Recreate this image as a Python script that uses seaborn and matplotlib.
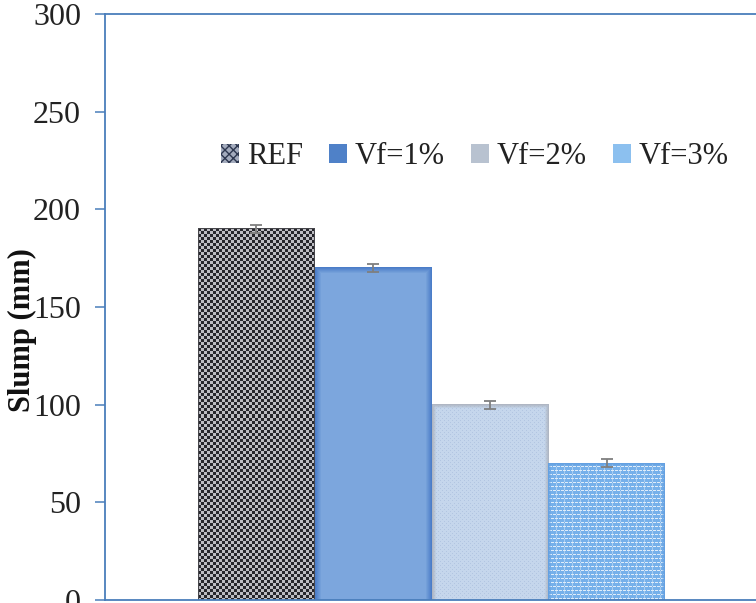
import numpy as np
import matplotlib
matplotlib.use("Agg")
import matplotlib.pyplot as plt
from matplotlib.patches import Patch
import seaborn as sns

# Slump test results
categories = ["REF", "Vf=1%", "Vf=2%", "Vf=3%"]
slump = [190, 170, 100, 70]
slump_err = [2, 2, 2, 2]
y_ticks = [0, 50, 100, 150, 200, 250, 300]

sns.set_theme(style="white")
plt.rcParams["font.family"] = ["Liberation Serif", "DejaVu Serif"]

W, H = 756, 603
fig = plt.figure(figsize=(W / 100, H / 100), dpi=100)
fig.patch.set_facecolor("white")
ax = fig.add_axes([105 / W, 3 / H, (W - 105) / W, 586 / H])

base_colors = ["#6b6b6b", "#7ca4dc", "#c5d5ea", "#9cc6ee"]
sns.barplot(x=categories, y=slump, hue=categories, palette=base_colors,
            width=1.0, errorbar=None, legend=False, ax=ax, saturation=1)

# bars span 198..665 px; the axes starts at 105 px and runs to the figure edge
px_per_unit = (665 - 198) / 4
x_left = -0.5 - (198 - 105) / px_per_unit
x_right = 3.5 + (W - 665) / px_per_unit
ax.set_xlim(x_left, x_right)
ax.set_ylim(0, 300)


def checker(h, w, cell=3):
    yy, xx = np.mgrid[0:h, 0:w]
    m = ((yy // cell) + (xx // cell)) % 2
    dark = np.array([38, 38, 44]) / 255
    light = np.array([188, 188, 194]) / 255
    img = np.where(m[..., None] == 0, dark, light)
    img[:, :1] = img[:, -1:] = img[:1, :] = np.array([70, 70, 75]) / 255
    return img


def soft_blue(h, w):
    img = np.ones((h, w, 3)) * np.array([124, 166, 221]) / 255
    edge = np.array([75, 125, 200]) / 255
    yy, xx = np.mgrid[0:h, 0:w]
    d = np.minimum(np.minimum(xx, w - 1 - xx), yy)
    t = np.clip(1 - d / 6.0, 0, 1)[..., None]
    return img * (1 - t) + edge * t


def dotted_grey(h, w):
    img = np.ones((h, w, 3)) * np.array([197, 214, 236]) / 255
    yy, xx = np.mgrid[0:h, 0:w]
    dots = ((yy % 4 == 0) & (xx % 4 == 0)) | ((yy % 4 == 2) & (xx % 4 == 2))
    img[dots] = np.array([178, 197, 225]) / 255
    edge = np.array([175, 182, 195]) / 255
    d = np.minimum(np.minimum(xx, w - 1 - xx), yy)
    t = np.clip(1 - d / 4.0, 0, 1)[..., None]
    return img * (1 - t) + edge * t


def brick_blue(h, w):
    img = np.ones((h, w, 3)) * np.array([118, 176, 234]) / 255
    yy, xx = np.mgrid[0:h, 0:w]
    rows = (yy % 4 == 3) & ((xx + (yy // 4) % 2 * 2) % 4 != 0)
    img[rows] = np.array([222, 236, 250]) / 255
    cols = (xx % 8 == 0) & (yy % 4 != 3)
    img[cols] = np.array([170, 205, 240]) / 255
    edge = np.array([100, 160, 225]) / 255
    d = np.minimum(np.minimum(xx, w - 1 - xx), yy)
    t = np.clip(1 - d / 3.0, 0, 1)[..., None]
    return img * (1 - t) + edge * t


textures = [checker, soft_blue, dotted_grey, brick_blue]
fig.canvas.draw()
for patch, tex in zip(ax.patches, textures):
    x0, w, h = patch.get_x(), patch.get_width(), patch.get_height()
    (px0, py0) = ax.transData.transform((x0, 0))
    (px1, py1) = ax.transData.transform((x0 + w, h))
    npx = max(int(round(px1 - px0)), 2)
    npy = max(int(round(py1 - py0)), 2)
    ax.imshow(tex(npy, npx), extent=(x0, x0 + w, 0, h), origin="upper",
              aspect="auto", interpolation="nearest", zorder=patch.get_zorder() + 0.1)
    patch.set_alpha(0)

ax.set_xlim(x_left, x_right)
ax.set_ylim(0, 300)

ax.errorbar(x=np.arange(len(categories)), y=slump, yerr=slump_err, fmt="none",
            ecolor="#7f7f7f", elinewidth=1.3, capsize=4.3, capthick=1.3, zorder=5)

spine_color = "#4a7ebb"
for side in ["left", "top", "bottom"]:
    ax.spines[side].set_color(spine_color)
    ax.spines[side].set_linewidth(1.3)
    ax.spines[side].set_visible(True)
ax.spines["right"].set_visible(False)

ax.set_yticks(y_ticks)
ax.set_xticks([])
ax.tick_params(axis="y", direction="out", length=7.2, width=1.1, color=spine_color,
               labelsize=23, labelcolor="#222222", pad=10, left=True)
ax.set_xlabel("")
ax.set_ylabel("")
ax.grid(False)

fig.text(22 / W, 1 - 330 / H, "Slump (mm)", rotation=90, ha="center", va="center",
         fontsize=22, fontweight="bold", color="#111111")

handles = [
    Patch(facecolor="#a3abbd", edgecolor="#2e3850", hatch="xxxx", linewidth=0),
    Patch(facecolor="#4f81c8", edgecolor="#4f81c8", linewidth=0),
    Patch(facecolor="#b8c2d0", edgecolor="#b8c2d0", linewidth=0),
    Patch(facecolor="#8cc0ef", edgecolor="#8cc0ef", linewidth=0),
]
fig.legend(handles, categories, loc="center", bbox_to_anchor=(475 / W, 1 - 157 / H),
           ncol=4, frameon=False, fontsize=22, handlelength=0.6, handleheight=0.6,
           handletextpad=0.25, columnspacing=0.85, labelcolor="#222222")

fig.savefig("out.png", dpi=100, facecolor="white")
